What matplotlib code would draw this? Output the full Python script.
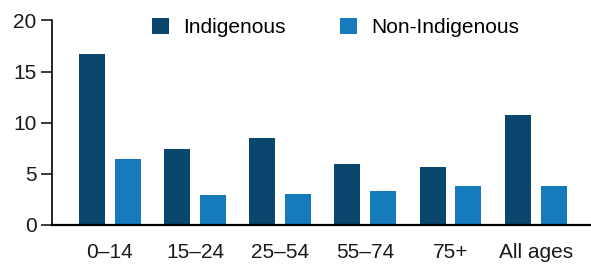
import numpy as np
import matplotlib
matplotlib.use("Agg")
from matplotlib import pyplot as plt

plt.rcParams['font.family'] = ['Liberation Sans', 'DejaVu Sans']

# данные
groups = ['0–14', '15–24', '25–54', '55–74', '75+', 'All ages']
indigenous = [16.7, 7.4, 8.5, 6.0, 5.7, 10.8]
non_indigenous = [6.5, 2.9, 3.0, 3.3, 3.8, 3.8]
series_names = ['Indigenous', 'Non-Indigenous']

dark = '#0A476E'
light = '#167BBD'

fig = plt.figure(figsize=(5.91, 2.66), dpi=100)
ax = fig.add_axes([52 / 591, 1 - 225 / 266, 1 - 52 / 591, (225 - 20.5) / 266])

x = np.arange(len(groups))
w = 0.305
off = 0.211
ax.bar(x - off, indigenous, width=w, color=dark, label=series_names[0])
ax.bar(x + off, non_indigenous, width=w, color=light, label=series_names[1])

ax.set_xlim(-0.68, 5.65)
ax.set_ylim(0, 20)
ax.set_yticks([0, 5, 10, 15, 20])
ax.set_xticks(x)
ax.set_xticklabels(groups)

for s in ['top', 'right']:
    ax.spines[s].set_visible(False)
ax.spines['left'].set_linewidth(1.2)
ax.spines['bottom'].set_linewidth(1.6)
ax.tick_params(axis='y', length=8, width=1.2, labelsize=15, pad=3, colors='#1a1a1a')
ax.tick_params(axis='x', length=0, labelsize=15, pad=13, colors='#1a1a1a')

leg = ax.legend(ncol=2, frameon=False, fontsize=15, loc='upper left',
                bbox_to_anchor=(0.17, 1.055), handlelength=0.8, handleheight=0.8,
                handletextpad=0.7, columnspacing=2.6, borderaxespad=0)

fig.savefig('out.png', dpi=100)
